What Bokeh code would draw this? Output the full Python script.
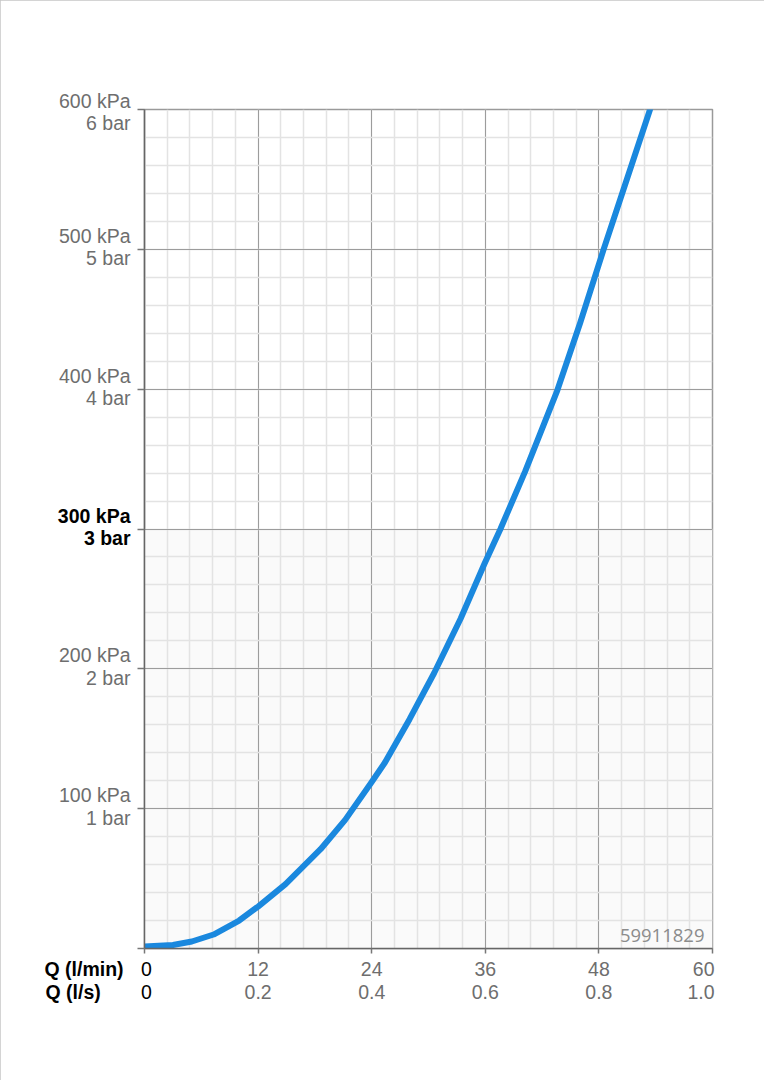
import numpy as np
from bokeh.plotting import figure
from bokeh.models import FixedTicker, BoxAnnotation, ColumnDataSource, Range1d
from bokeh.core.properties import value
from bokeh.embed import file_html
from bokeh.resources import INLINE

# ---- data ----
flow_lpm = [0, 3, 5, 7.3, 10, 12, 14.9, 18.6, 21.2, 24, 25.4, 28, 30.6, 33.4, 35.9, 37.6,
            40.2, 43.6, 46, 48.5, 51, 53.4]
pressure_kpa = [1.5, 2.5, 5, 10, 20, 30, 46, 71, 92, 119, 133, 164, 197, 236, 275, 300,
                341, 399, 447, 500, 551, 600]

x_ticks = [0, 12, 24, 36, 48, 60]
x_labels_lpm = ["0", "12", "24", "36", "48", "60"]
x_labels_lps = ["0", "0.2", "0.4", "0.6", "0.8", "1.0"]

y_ticks = [100, 200, 300, 400, 500, 600]
y_labels_kpa = ["100 kPa", "200 kPa", "300 kPa", "400 kPa", "500 kPa", "600 kPa"]
y_labels_bar = ["1 bar", "2 bar", "3 bar", "4 bar", "5 bar", "6 bar"]
highlight_kpa = 300
shade_top_kpa = 300

row_titles = ["Q (l/min)", "Q (l/s)"]
doc_id = "59911829"

X_MAX, Y_MAX = 60, 600
FONT = value("Liberation Sans")
FS = "19.5px"
GRAY = "#6e6e6e"

p = figure(width=764, height=1080, x_range=Range1d(0, X_MAX), y_range=Range1d(0, Y_MAX),
           output_backend="svg", toolbar_location=None,
           min_border_left=144, min_border_right=52, min_border_top=109, min_border_bottom=132)
p.styles = {"outline": "2px solid #c6c6c6", "outline-offset": "-2px"}
p.background_fill_color = "#ffffff"
p.border_fill_color = "#ffffff"
p.outline_line_color = "#9a9a9a"
p.outline_line_width = 1.5

# grids
p.xgrid.ticker = FixedTicker(ticks=list(range(0, X_MAX + 1, 12)),
                             minor_ticks=[float(v) for v in np.arange(0, X_MAX + 0.01, 2.4)])
p.ygrid.ticker = FixedTicker(ticks=list(range(0, Y_MAX + 1, 100)),
                             minor_ticks=list(range(0, Y_MAX + 1, 20)))
for g in (p.xgrid, p.ygrid):
    g.grid_line_color = "#9c9c9c"
    g.grid_line_width = 1
    g.minor_grid_line_color = "#e3e3e3"
    g.minor_grid_line_width = 1.5

# shaded lower region
p.add_layout(BoxAnnotation(bottom=0, top=shade_top_kpa, fill_color="#fafafa", fill_alpha=1,
                           line_color=None, level="image"))

# axes: lines and ticks only
p.xaxis.ticker = FixedTicker(ticks=x_ticks)
p.yaxis.ticker = FixedTicker(ticks=[0] + y_ticks)
p.xaxis.major_tick_out = 5
p.yaxis.major_tick_out = 7
for ax in (p.xaxis, p.yaxis):
    ax.major_tick_in = 0
    ax.minor_tick_in = 0
    ax.minor_tick_out = 0
    ax.axis_line_color = "#666666"
    ax.axis_line_width = 1.5
    ax.major_tick_line_color = "#777777"
    ax.major_tick_line_width = 1.5
    ax.major_label_text_color = None
    ax.major_label_text_font_size = "1px"

# curve
p.line(flow_lpm, pressure_kpa, line_width=6, line_color="#1a88de",
       line_cap="round", line_join="round")

# y labels (two lines per tick)
ysrc = ColumnDataSource(dict(
    x=[0] * len(y_ticks), y=y_ticks, kpa=y_labels_kpa, bar=y_labels_bar,
    color=["#000000" if v == highlight_kpa else GRAY for v in y_ticks],
    style=["bold" if v == highlight_kpa else "normal" for v in y_ticks],
    dy1=[-9 if v == Y_MAX else -13.5 for v in y_ticks],
    dy2=[13.5 if v == Y_MAX else 9 for v in y_ticks],
))
for col, dy in (("kpa", "dy1"), ("bar", "dy2")):
    p.text(x="x", y="y", text=col, source=ysrc, x_offset=-14, y_offset=dy,
           text_align="right", text_baseline="middle", text_color="color",
           text_font_style="style", text_font=FONT, text_font_size=FS, level="overlay")

# x labels (two rows)
n = len(x_ticks)
xsrc = ColumnDataSource(dict(
    x=x_ticks, y=[0] * n, lpm=x_labels_lpm, lps=x_labels_lps,
    color=["#000000" if v == 0 else GRAY for v in x_ticks],
    align=["right" if v == X_MAX else "center" for v in x_ticks],
    dx=[2 if v in (0, X_MAX) else 0 for v in x_ticks],
))
for col, dy in (("lpm", 20), ("lps", 43)):
    p.text(x="x", y="y", text=col, source=xsrc, x_offset="dx", y_offset=dy,
           text_align="align", text_baseline="middle", text_color="color",
           text_font=FONT, text_font_size=FS, level="overlay")

# row titles
p.text(x=[0, 0], y=[0, 0], text=row_titles, x_offset=[-100, -99], y_offset=[20, 43],
       text_align="left", text_baseline="middle", text_color="#000000",
       text_font_style="bold", text_font=FONT, text_font_size=FS, level="overlay")

# document id
p.text(x=[X_MAX], y=[0], text=[doc_id], x_offset=-8, y_offset=-13,
       text_align="right", text_baseline="middle", text_color="#8c8c8c",
       text_font=value("Open Sans"), text_font_size="18.5px", level="overlay")

open("out.html", "w").write(file_html(p, INLINE))
